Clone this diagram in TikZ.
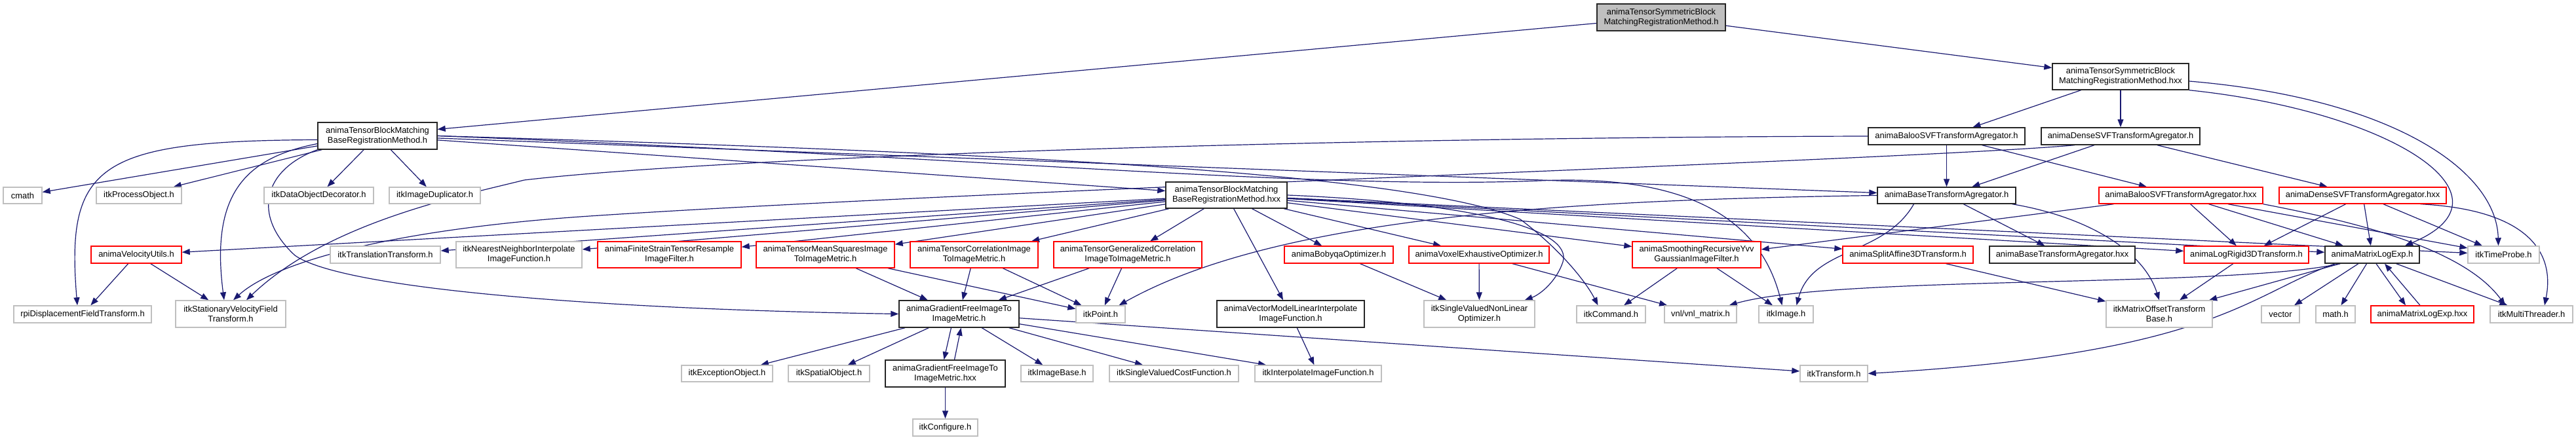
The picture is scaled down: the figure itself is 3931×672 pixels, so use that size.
\documentclass[tikz,border=0pt]{standalone}
\usepackage{fontspec}
\setmainfont{Liberation Sans}
\usetikzlibrary{arrows.meta}
\definecolor{eclr}{HTML}{191970}
\definecolor{grayb}{HTML}{BFBFBF}
\definecolor{redb}{HTML}{FF0000}
\definecolor{rootfill}{HTML}{BFBFBF}
\pgfdeclarelayer{background}
\pgfsetlayers{background,main}
\tikzset{
  nb/.style={rectangle, inner sep=0pt, fill=white, line width=0.7pt, font=\fontsize{6.45}{7.4}\selectfont, align=center},
  blk/.style={nb, draw=black!85},
  gry/.style={nb, draw=grayb},
  rd/.style={nb, draw=redb},
  sz/.style 2 args={minimum width=#1pt, minimum height=#2pt},
  edg/.style={draw=eclr, line width=0.6pt, -{Triangle[length=6pt,width=4.5pt]}}
}
\begin{document}
\begin{tikzpicture}[x=0.5pt,y=-0.5pt]
\useasboundingbox (0,0) rectangle (3931,672);
% row 0-2
\node[blk, fill=rootfill, sz={98}{20.5}] (root) at (2535,26.5) {animaTensorSymmetricBlock\\MatchingRegistrationMethod.h};
\node[blk, sz={91}{20.5}] (tbmh) at (576,207.5) {animaTensorBlockMatching\\BaseRegistrationMethod.h};
\node[blk, sz={104}{20}] (tsbmhxx) at (3236,117) {animaTensorSymmetricBlock\\MatchingRegistrationMethod.hxx};
\node[blk, sz={92.5}{20}] (tbmhxx) at (1871.5,298) {animaTensorBlockMatching\\BaseRegistrationMethod.hxx};
\node[blk, sz={119.5}{13}] (balooh) at (2970.5,208) {animaBalooSVFTransformAgregator.h};
\node[blk, sz={121}{13}] (denseh) at (3236,208) {animaDenseSVFTransformAgregator.h};
\node[gry, sz={29.5}{12.5}] (cmath) at (34.5,298.5) {cmath};
\node[gry, sz={65}{12.5}] (itkpo) at (212,298.5) {itkProcessObject.h};
\node[gry, sz={83.5}{12.5}] (itkdod) at (486.5,298.5) {itkDataObjectDecorator.h};
\node[gry, sz={69.5}{12.5}] (itkdup) at (663.5,298.5) {itkImageDuplicator.h};
\node[blk, sz={105.5}{12.5}] (baseh) at (2970.5,298.5) {animaBaseTransformAgregator.h};
\node[rd, sz={125}{12.5}] (balooxx) at (3328,298.5) {animaBalooSVFTransformAgregator.hxx};
\node[rd, sz={127.5}{12.5}] (densexx) at (3605.5,298.5) {animaDenseSVFTransformAgregator.hxx};
% row 3
\node[rd, sz={69}{13}] (velo) at (208,389) {animaVelocityUtils.h};
\node[gry, sz={84}{13}] (itktt) at (588,389) {itkTranslationTransform.h};
\node[gry, sz={96}{20}] (itknn) at (792,389) {itkNearestNeighborInterpolate\\ImageFunction.h};
\node[rd, sz={109.5}{20}] (finite) at (1021.5,389) {animaFiniteStrainTensorResample\\ImageFilter.h};
\node[rd, sz={105.5}{20}] (meansq) at (1259.5,389) {animaTensorMeanSquaresImage\\ToImageMetric.h};
\node[rd, sz={97.5}{20}] (corr) at (1486.5,389) {animaTensorCorrelationImage\\ToImageMetric.h};
\node[rd, sz={113}{20}] (gencorr) at (1721,389) {animaTensorGeneralizedCorrelation\\ImageToImageMetric.h};
\node[rd, sz={83}{13}] (bobyqa) at (2043,389) {animaBobyqaOptimizer.h};
\node[rd, sz={107}{13}] (voxel) at (2257,389) {animaVoxelExhaustiveOptimizer.h};
\node[rd, sz={98}{20}] (smooth) at (2589,389) {animaSmoothingRecursiveYvv\\GaussianImageFilter.h};
\node[rd, sz={99.5}{13}] (split) at (2911.5,389) {animaSplitAffine3DTransform.h};
\node[blk, sz={111}{13}] (basexx) at (3147,389) {animaBaseTransformAgregator.hxx};
\node[rd, sz={95}{13}] (logrigid) at (3428,389) {animaLogRigid3DTransform.h};
\node[blk, sz={72}{13}] (mle) at (3620,389) {animaMatrixLogExp.h};
\node[gry, sz={54.5}{13}] (timeprobe) at (3820.5,389) {itkTimeProbe.h};
% row 4
\node[gry, sz={105}{13}] (rpi) at (126,480) {rpiDisplacementFieldTransform.h};
\node[gry, sz={84}{20.5}] (svf) at (352,479.5) {itkStationaryVelocityField\\Transform.h};
\node[blk, sz={91.5}{20.5}] (gfmh) at (1463.5,479.5) {animaGradientFreeImageTo\\ImageMetric.h};
\node[gry, sz={37.5}{13}] (itkpoint) at (1679.5,480) {itkPoint.h};
\node[blk, sz={112.5}{20.5}] (vecmodel) at (1969.5,479.5) {animaVectorModelLinearInterpolate\\ImageFunction.h};
\node[gry, sz={84.5}{20.5}] (svnlo) at (2257.5,479.5) {itkSingleValuedNonLinear\\Optimizer.h};
\node[gry, sz={52.5}{13}] (itkcommand) at (2458.5,480) {itkCommand.h};
\node[gry, sz={55}{13}] (vnl) at (2595,480) {vnl/vnl\_matrix.h};
\node[gry, sz={41.5}{13}] (itkimage) at (2725.5,480) {itkImage.h};
\node[gry, sz={81}{20.5}] (mot) at (3295,479.5) {itkMatrixOffsetTransform\\Base.h};
\node[gry, sz={29}{13}] (vector) at (3480,480) {vector};
\node[gry, sz={30}{13}] (math) at (3564,480) {math.h};
\node[rd, sz={78.5}{13}] (mlehxx) at (3696.5,480) {animaMatrixLogExp.hxx};
\node[gry, sz={63}{13}] (multithreader) at (3863,480) {itkMultiThreader.h};
% row 5
\node[gry, sz={69.5}{12.5}] (exc) at (1109.5,570.5) {itkExceptionObject.h};
\node[gry, sz={62}{12.5}] (spatial) at (1265,570.5) {itkSpatialObject.h};
\node[blk, sz={91.5}{20.5}] (gfmhxx) at (1442.5,570.5) {animaGradientFreeImageTo\\ImageMetric.hxx};
\node[gry, sz={55}{12.5}] (imagebase) at (1613,570.5) {itkImageBase.h};
\node[gry, sz={98.5}{12.5}] (svcf) at (1791.5,570.5) {itkSingleValuedCostFunction.h};
\node[gry, sz={96.5}{12.5}] (interp) at (2011.5,570.5) {itkInterpolateImageFunction.h};
\node[gry, sz={51.5}{12.5}] (itktransform) at (2798.5,570.5) {itkTransform.h};
% row 6
\node[gry, sz={49.5}{13}] (configure) at (1442.5,653) {itkConfigure.h};

\begin{pgfonlayer}{background}
% root
\draw[edg] (root) -- ([yshift=5pt]tbmh.east);
\draw[edg] (root) -- (tsbmhxx);
% tbmh
\draw[edg] (tbmh) -- (cmath);
\draw[edg] (tbmh) -- (itkpo);
\draw[edg] (tbmh) -- (itkdod);
\draw[edg] (tbmh) -- (itkdup);
\draw[edg] ([yshift=-3pt]tbmh.west) .. controls (150,215) and (100,250) .. ([xshift=-4pt]rpi.north);
\draw[edg] ([yshift=-6pt]tbmh.west) .. controls (380,240) and (320,290) .. ([xshift=-5pt]svf.north);
\draw[edg] (tbmh.south west) .. controls (400,260) and (385,330) .. (450,390) .. controls (520,440) and (900,472) .. (gfmh.west);
\draw[edg] (tbmh) -- (tbmhxx);
\draw[edg] (tbmh) -- (baseh);
\draw[edg] (tbmh.east) .. controls (1500,240) and (2000,290) .. (2350,276) .. controls (2600,265) and (2690,350) .. ([xshift=-3pt]itkimage.north);
\draw[edg] (tbmh.east) .. controls (1500,232) and (2150,262) .. (2320,335) .. controls (2380,380) and (2420,430) .. ([xshift=-10pt]itkcommand.north);
% tsbmhxx
\draw[edg] (tsbmhxx) -- (balooh);
\draw[edg] (tsbmhxx) -- (denseh);
\draw[edg] ([yshift=-3.5pt]tsbmhxx.east) .. controls (3650,150) and (3810,260) .. ([xshift=-4pt]timeprobe.north);
\draw[edg] (tsbmhxx.south east) .. controls (3650,170) and (3850,300) .. ([xshift=25pt]mle.north);
% baloo.h / dense.h
\draw[edg] (balooh) -- (baseh);
\draw[edg] (balooh) -- (balooxx);
\draw[edg] (balooh.west) .. controls (2000,210) and (1100,240) .. (800,275) .. controls (700,300) and (500,340) .. ([xshift=12pt]svf.north);
\draw[edg] (denseh) -- (baseh);
\draw[edg] (denseh) -- (densexx);
\draw[edg] ([xshift=-35pt]denseh.south) .. controls (2900,245) and (1500,290) .. (900,330) .. controls (600,350) and (420,400) .. ([xshift=2pt]svf.north);
% baseh
\draw[edg] (baseh) -- (basexx);
\draw[edg] ([xshift=-25pt]baseh.south) to[out=-120,in=75] ([xshift=8pt]itkimage.north);
\draw[edg] (baseh.west) .. controls (2400,305) and (1950,330) .. ([xshift=14pt]itkpoint.north);
\draw[edg] ([xshift=50pt]baseh.south) .. controls (3180,330) and (3270,380) .. (mot.north);
% baloo.hxx / dense.hxx
\draw[edg] (balooxx) -- (logrigid);
\draw[edg] (balooxx) -- (mle);
\draw[edg] (balooxx) -- (timeprobe);
\draw[edg] (balooxx.south east) .. controls (3600,340) and (3760,380) .. ([xshift=-20pt]multithreader.north);
\draw[edg] (balooxx) -- ([yshift=4pt]smooth.east);
\draw[edg] (densexx) -- (logrigid);
\draw[edg] (densexx) -- (mle);
\draw[edg] (densexx) -- (timeprobe);
\draw[edg] ([xshift=-20pt]densexx.south east) .. controls (3850,320) and (3900,380) .. ([xshift=10pt]multithreader.north);
% tbmhxx
\draw[edg] (tbmhxx) -- (velo);
\draw[edg] (tbmhxx) -- (itktt);
\draw[edg] (tbmhxx) -- (itknn);
\draw[edg] (tbmhxx) -- (finite);
\draw[edg] (tbmhxx) -- (meansq);
\draw[edg] (tbmhxx) -- (corr);
\draw[edg] (tbmhxx) -- (gencorr);
\draw[edg] (tbmhxx) -- (vecmodel);
\draw[edg] (tbmhxx) -- (bobyqa);
\draw[edg] (tbmhxx) -- (voxel);
\draw[edg] (tbmhxx) -- (smooth);
\draw[edg] (tbmhxx) -- (split);
\draw[edg] (tbmhxx) -- (logrigid);
\draw[edg] (tbmhxx) -- (mle);
\draw[edg] (tbmhxx) -- (timeprobe);
\draw[edg] (tbmhxx.east) .. controls (2250,310) and (2400,350) .. (2385,400) .. controls (2375,430) and (2350,450) .. ([xshift=-8pt]svnlo.north east);
% lower
\draw[edg] (logrigid) -- (mot);
\draw[edg] (split) -- (mot);
\draw[edg] (mle) -- (mot);
\draw[edg] (mle) -- (vector);
\draw[edg] (mle) -- (math);
\draw[edg] ([xshift=3pt]mle.south) -- ([xshift=-12.75pt]mlehxx.north);
\draw[edg] ([xshift=-1.75pt]mlehxx.north) -- ([xshift=9.5pt]mle.south);
\draw[edg] (mle) -- (multithreader);
\draw[edg] ([xshift=12pt]mle.south west) .. controls (3400,440) and (2800,420) .. ([xshift=-6pt]vnl.north east);
\draw[edg] ([xshift=8pt]mle.south west) .. controls (3430,450) and (3380,540) .. (itktransform.east);
\draw[edg] (smooth) -- (itkcommand);
\draw[edg] (smooth) -- (itkimage);
\draw[edg] (bobyqa) -- (svnlo);
\draw[edg] (voxel) -- (svnlo);
\draw[edg] (voxel) -- (vnl);
\draw[edg] (meansq) -- (gfmh);
\draw[edg] (meansq) -- (itkpoint);
\draw[edg] (corr) -- (gfmh);
\draw[edg] (corr) -- (itkpoint);
\draw[edg] (gencorr) -- (gfmh);
\draw[edg] (gencorr) -- (itkpoint);
\draw[edg] (gfmh) -- (exc);
\draw[edg] (gfmh) -- (spatial);
\draw[edg] (gfmh) -- (imagebase);
\draw[edg] (gfmh) -- (svcf);
\draw[edg] (gfmh) -- (interp);
\draw[edg] (gfmh) -- (itktransform);
\draw[edg] ([xshift=-6pt]gfmh.south) -- ([xshift=-1pt]gfmhxx.north);
\draw[edg] ([xshift=7pt]gfmhxx.north) -- ([xshift=1.5pt]gfmh.south);
\draw[edg] (gfmhxx) -- (configure);
\draw[edg] (vecmodel) -- (interp);
\draw[edg] (velo) -- (rpi);
\draw[edg] (velo) -- (svf);
\end{pgfonlayer}
\end{tikzpicture}
\end{document}
